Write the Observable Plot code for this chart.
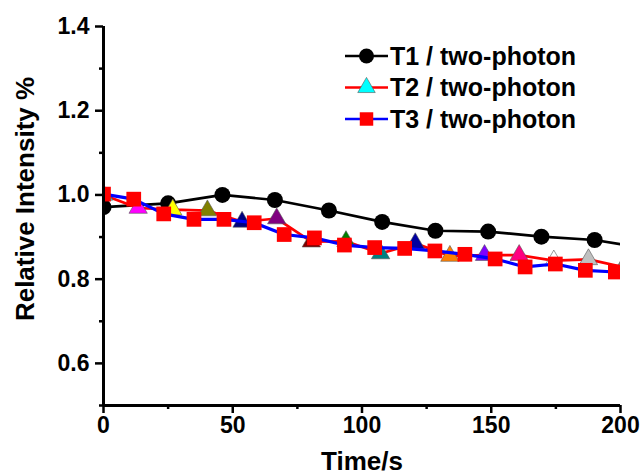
<!DOCTYPE html>
<html><head><meta charset="utf-8">
<script src="https://cdn.jsdelivr.net/npm/d3@7"></script>
<script src="https://cdn.jsdelivr.net/npm/@observablehq/plot@0.6"></script>
<style>
body{margin:0;background:#fff;overflow:hidden;}
#chart{position:relative;width:642px;height:475px;}
</style></head><body><div id="chart"></div>
<script>
// ---- data ----
const t1Time  = [0, 25, 46, 66.3, 87.2, 107.8, 128.4, 148.8, 169.4, 190, 210.6];
const t1Value = [0.971, 0.98, 1.0, 0.988, 0.963, 0.936, 0.915, 0.913, 0.901, 0.893, 0.873];

const t2Time  = [0, 13.4, 26.8, 40.2, 53.6, 67, 80.4, 93.8, 107.2, 120.6, 134, 147.4, 160.8, 174.2, 187.6, 201];
const t2Value = [1.0, 0.969, 0.965, 0.963, 0.936, 0.944, 0.889, 0.89, 0.861, 0.885, 0.855, 0.857, 0.857, 0.844, 0.847, 0.829];
const t2MarkerColors = ["#00ffff","#ff00ff","#ffff00","#808000","#000080","#800080","#800000","#008000",
                        "#008080","#0000a0","#ff8000","#8000ff","#ff0080","#ffffff","#c0c0c0","#808080"];

const t3Time  = [0, 11.7, 23.3, 35, 46.6, 58.3, 69.9, 81.6, 93.2, 104.9, 116.5, 128.2, 139.8, 151.5, 163.1, 174.8, 186.4, 198];
const t3Value = [1.002, 0.99, 0.955, 0.942, 0.942, 0.934, 0.906, 0.898, 0.881, 0.875, 0.873, 0.867, 0.859, 0.848, 0.829, 0.836, 0.821, 0.817];

const seriesNames = ["T1 / two-photon", "T2 / two-photon", "T3 / two-photon"];
const xMajorTicks = [0, 50, 100, 150, 200];
const xMinorTicks = [25, 75, 125, 175];
const yMajorTicks = [0.6, 0.8, 1.0, 1.2, 1.4];
const yMinorTicks = [0.5, 0.7, 0.9, 1.1, 1.3];
const xTitle = "Time/s";
const yTitle = "Relative Intensity %";

// ---- tables ----
const t1 = t1Time.map((x, i) => ({x, y: t1Value[i]}));
const t2 = t2Time.map((x, i) => ({x, y: t2Value[i], c: t2MarkerColors[i]}));
const t3 = t3Time.map((x, i) => ({x, y: t3Value[i]}));

const FONT = "'Liberation Sans', Arial, sans-serif";

const plot = Plot.plot({
  width: 642, height: 475,
  marginLeft: 103, marginRight: 22, marginTop: 26, marginBottom: 70,
  x: {domain: [0, 200]},
  y: {domain: [0.5, 1.4]},
  color: {type: "identity"},
  style: {fontFamily: FONT, background: "white", overflow: "visible", color: "black"},
  marks: [
    Plot.line(t1, {x: "x", y: "y", stroke: "black", strokeWidth: 2.7, clip: true}),
    Plot.dot(t1, {x: "x", y: "y", r: 8, symbol: "circle", fill: "black", clip: true}),
    Plot.line(t2, {x: "x", y: "y", stroke: "#ff0000", strokeWidth: 2.7, clip: true}),
    Plot.dot(t2, {x: "x", y: "y", r: 6.8, symbol: "triangle", fill: "c", stroke: "#555", strokeWidth: 0.6, clip: true}),
    Plot.line(t3, {x: "x", y: "y", stroke: "#0000ff", strokeWidth: 3.2, clip: true}),
    Plot.dot(t3, {x: "x", y: "y", r: 8.3, symbol: "square", fill: "#ff0000", clip: true}),
    Plot.axisX(xMajorTicks, {tickSize: 8, tickPadding: 3, strokeWidth: 2.5, fontSize: 23, fontWeight: "bold", label: null}),
    Plot.axisX(xMinorTicks, {tickSize: 4, strokeWidth: 2.5, text: null, label: null}),
    Plot.axisY(yMajorTicks, {tickSize: 8, tickPadding: 6, strokeWidth: 2.5, fontSize: 23, fontWeight: "bold", label: null, tickFormat: d3.format(".1f")}),
    Plot.axisY(yMinorTicks, {tickSize: 4, strokeWidth: 2.5, text: null, label: null}),
    Plot.ruleX([0], {strokeWidth: 3}),
    Plot.ruleY([0.5], {strokeWidth: 3}),
    Plot.text([xTitle], {frameAnchor: "bottom", textAnchor: "middle", lineAnchor: "middle", dy: 56, fontSize: 26, fontWeight: "bold", fill: "black"}),
    Plot.text([yTitle], {frameAnchor: "left", textAnchor: "middle", lineAnchor: "middle", rotate: -90, dx: -78, dy: -17, fontSize: 26, fontWeight: "bold", fill: "black"})
  ]
});

// ---- legend ----
const svg = d3.select(plot);
const lg = svg.append("g").attr("font-family", FONT).attr("font-size", 25).attr("font-weight", "bold")
  .attr("fill", "black").attr("text-anchor", "start");
const legendStroke = ["black", "#ff0000", "#0000ff"];
const legendFill = ["black", "#00ffff", "#ff0000"];
const legendSymbol = [d3.symbolCircle, d3.symbolTriangle, d3.symbolSquare];
const legendR = [7.5, 6.5, 7.6];
seriesNames.forEach((name, i) => {
  const y = 56 + i * 31.5;
  lg.append("line").attr("x1", 345).attr("x2", 388).attr("y1", y).attr("y2", y)
    .attr("stroke", legendStroke[i]).attr("stroke-width", 2.7);
  lg.append("path").attr("transform", `translate(366.5,${y})`)
    .attr("d", d3.symbol(legendSymbol[i], Math.PI * legendR[i] * legendR[i])())
    .attr("fill", legendFill[i]).attr("stroke", i === 1 ? "#555" : "none").attr("stroke-width", 0.6);
  lg.append("text").attr("x", 390).attr("y", y).attr("dy", "0.35em").attr("text-anchor", "start").text(name);
});

document.getElementById("chart").appendChild(plot);
</script>
</body></html>
